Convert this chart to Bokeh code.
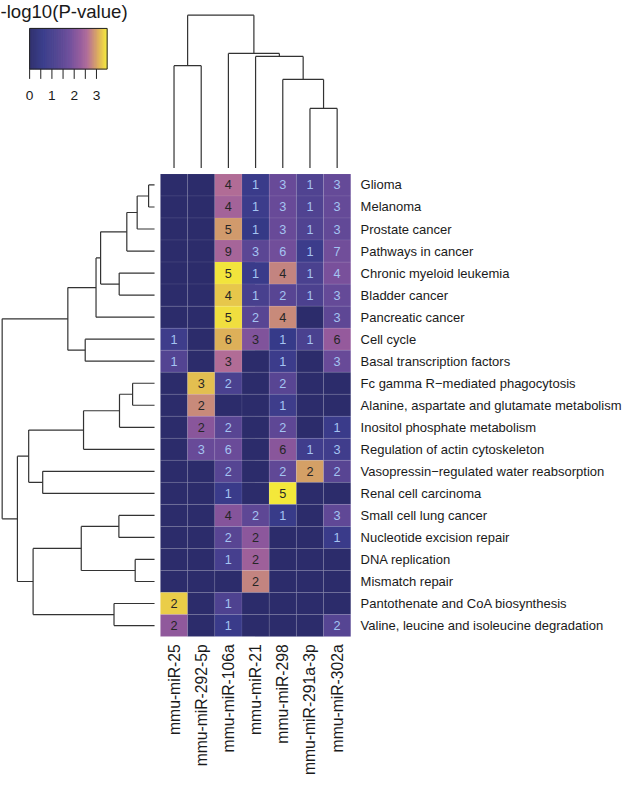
import numpy as np
from bokeh.plotting import figure
from bokeh.models import Range1d, LinearColorMapper, ColumnDataSource
from bokeh.transform import transform
from bokeh.core.properties import value
from bokeh.embed import file_html
from bokeh.resources import INLINE

# ---------------- data ----------------
mirnas = ["mmu-miR-25", "mmu-miR-292-5p", "mmu-miR-106a", "mmu-miR-21",
          "mmu-miR-298", "mmu-miR-291a-3p", "mmu-miR-302a"]
pathways = ["Glioma", "Melanoma", "Prostate cancer", "Pathways in cancer",
            "Chronic myeloid leukemia", "Bladder cancer", "Pancreatic cancer",
            "Cell cycle", "Basal transcription factors",
            "Fc gamma R\u2212mediated phagocytosis",
            "Alanine, aspartate and glutamate metabolism",
            "Inositol phosphate metabolism", "Regulation of actin cytoskeleton",
            "Vasopressin\u2212regulated water reabsorption", "Renal cell carcinoma",
            "Small cell lung cancer", "Nucleotide excision repair", "DNA replication",
            "Mismatch repair", "Pantothenate and CoA biosynthesis",
            "Valine, leucine and isoleucine degradation"]

# gene counts per miRNA (0 = no label)
cnt_25   = [0, 0, 0, 0, 0, 0, 0, 1, 1, 0, 0, 0, 0, 0, 0, 0, 0, 0, 0, 2, 2]
cnt_292  = [0, 0, 0, 0, 0, 0, 0, 0, 0, 3, 2, 2, 3, 0, 0, 0, 0, 0, 0, 0, 0]
cnt_106a = [4, 4, 5, 9, 5, 4, 5, 6, 3, 2, 0, 2, 6, 2, 1, 4, 2, 1, 0, 1, 1]
cnt_21   = [1, 1, 1, 3, 1, 1, 2, 3, 0, 0, 0, 0, 0, 0, 0, 2, 2, 2, 2, 0, 0]
cnt_298  = [3, 3, 3, 6, 4, 2, 4, 1, 1, 2, 1, 2, 6, 2, 5, 1, 0, 0, 0, 0, 0]
cnt_291a = [1, 1, 1, 1, 1, 1, 0, 1, 0, 0, 0, 0, 1, 2, 0, 0, 0, 0, 0, 0, 0]
cnt_302a = [3, 3, 3, 7, 4, 3, 3, 6, 3, 0, 0, 1, 3, 2, 0, 3, 1, 0, 0, 0, 2]

# -log10(P-value) per miRNA
lp_25   = [0, 0, 0, 0, 0, 0, 0, 0.8, 1.3, 0, 0, 0, 0, 0, 0, 0, 0, 0, 0, 3.3, 2.25]
lp_292  = [0, 0, 0, 0, 0, 0, 0, 0, 0, 3.2, 2.85, 2.15, 1.7, 0, 0, 0, 0, 0, 0, 0, 0]
lp_106a = [2.6, 2.45, 2.95, 2.5, 3.45, 3.25, 3.4, 3.1, 2.6, 1.1, 0, 1.4, 1.75, 1.35,
           0.7, 2.1, 1.4, 1.0, 0, 1.2, 0.7]
lp_21   = [0.7, 0.75, 0.55, 1.45, 0.7, 1.05, 1.4, 2.05, 0, 0, 0, 0, 0, 0, 0, 1.5,
           2.2, 2.4, 2.8, 0, 0]
lp_298  = [1.7, 1.7, 1.7, 1.85, 2.8, 1.4, 2.85, 0.6, 0.75, 1.4, 0.8, 1.5, 2.15, 1.55,
           3.48, 0.65, 0, 0, 0, 0, 0]
lp_291a = [1.25, 1.25, 1.25, 0.75, 1.1, 1.15, 0, 1.1, 0, 0, 0, 0, 0.85, 3.0, 0, 0,
           0, 0, 0, 0, 0]
lp_302a = [1.65, 1.65, 1.6, 1.85, 1.95, 1.65, 1.5, 2.3, 1.7, 0, 0, 0.7, 0.85, 1.4, 0,
           1.55, 0.7, 0, 0, 0, 1.35]

counts = [cnt_25, cnt_292, cnt_106a, cnt_21, cnt_298, cnt_291a, cnt_302a]
logp = [lp_25, lp_292, lp_106a, lp_21, lp_298, lp_291a, lp_302a]

# dendrograms: (child_a, child_b, relative height); new node ids follow leaves
col_link = [(5, 6, 0.39), (4, 7, 0.58), (0, 1, 0.67), (3, 8, 0.73), (2, 10, 0.75),
            (9, 11, 1.0)]
row_link = [(0, 1, 0.039), (21, 2, 0.114), (22, 3, 0.182), (4, 5, 0.232),
            (23, 24, 0.354), (25, 6, 0.384), (7, 8, 0.455), (26, 27, 0.569),
            (9, 10, 0.144), (29, 11, 0.230), (30, 12, 0.466), (13, 14, 0.734),
            (31, 32, 0.826), (15, 16, 0.234), (17, 18, 0.127), (34, 35, 0.481),
            (19, 20, 0.266), (36, 37, 0.797), (33, 38, 0.900), (28, 39, 1.0)]

cb_ticks = [0, 1, 2, 3]
VMAX = 3.48

# ---------------- layout helpers (reference pixel -> cell units) ----------------
HX0, HY0, CW, RH = 166.0, 177.0, 27.71, 22.48
def ux(px):
    return (px - HX0) / CW
def uy(py):
    return (py - HY0) / RH
S = 0.98  # page scale

anchors = [(0.0, "#2c2c6b"), (0.6, "#363a89"), (1.2, "#4e4290"), (1.8, "#6d4c9a"),
           (2.3, "#945a9c"), (2.6, "#b06b97"), (2.85, "#c88a7a"), (3.1, "#dcae5a"),
           (3.3, "#eacd48"), (3.48, "#f3e83a")]
def hex2rgb(h):
    return np.array([int(h[i:i + 2], 16) for i in (1, 3, 5)], float)
av = np.array([a[0] for a in anchors])
ac = np.array([hex2rgb(a[1]) for a in anchors])
palette = []
for t in np.linspace(0, VMAX, 256):
    rgb = [np.interp(t, av, ac[:, k]) for k in range(3)]
    palette.append("#%02x%02x%02x" % tuple(int(round(c)) for c in rgb))
mapper = LinearColorMapper(palette=palette, low=0, high=VMAX)

FONT = value("Liberation Sans")

p = figure(width=625, height=782, x_range=Range1d(ux(3), ux(640)),
           y_range=Range1d(uy(798), uy(0)), output_backend="svg",
           toolbar_location=None, min_border=0,
           x_axis_location=None, y_axis_location=None)
p.grid.visible = False
p.outline_line_color = None
p.background_fill_color = "white"

# ---------------- heatmap ----------------
xs, ys, vals, labs, tcol = [], [], [], [], []
for ci in range(len(mirnas)):
    for ri in range(len(pathways)):
        xs.append(ci + 0.5)
        ys.append(ri + 0.5)
        v = logp[ci][ri]
        vals.append(v)
        c = counts[ci][ri]
        labs.append(str(c) if c > 0 else "")
        tcol.append("#262626" if v >= 2.0 else "#a4c4f2")
src = ColumnDataSource(dict(x=xs, y=ys, v=vals, lab=labs, tc=tcol))
p.rect("x", "y", width=1, height=1, source=src, fill_color=transform("v", mapper),
       line_color="#ffffff", line_alpha=0.07, line_width=1)
p.text("x", "y", text="lab", source=src, text_color="tc", text_align="center",
       text_baseline="middle", text_font=FONT, text_font_size="%.1fpx" % (13 * S))

# row labels
p.text([ux(370)] * len(pathways), [i + 0.5 for i in range(len(pathways))],
       text=pathways, text_align="left", text_baseline="middle", text_font=FONT,
       text_font_size="%.1fpx" % (13.3 * S), text_color="#1a1a1a")
# column labels
p.text([i + 0.5 for i in range(len(mirnas))], [uy(657)] * len(mirnas), text=mirnas,
       angle=np.pi / 2, text_align="right", text_baseline="middle", text_font=FONT,
       text_font_size="%.1fpx" % (16 * S), text_color="#1a1a1a")

# ---------------- dendrograms ----------------
def dendro(link, n):
    pos = {i: i + 0.5 for i in range(n)}
    hgt = {i: 0.0 for i in range(n)}
    segs = []
    for k, (a, b, h) in enumerate(link):
        for c in (a, b):
            segs.append((pos[c], hgt[c], pos[c], h))
        segs.append((pos[a], h, pos[b], h))
        pos[n + k] = (pos[a] + pos[b]) / 2
        hgt[n + k] = h
    return segs

cs = dendro(col_link, len(mirnas))
cy0, cscale = uy(171), 156.0 / RH
p.segment([s[0] for s in cs], [cy0 - s[1] * cscale for s in cs],
          [s[2] for s in cs], [cy0 - s[3] * cscale for s in cs],
          line_color="#333333", line_width=1.2)
rs = dendro(row_link, len(pathways))
rx0, rscale = ux(160), 155.3 / CW
p.segment([rx0 - s[1] * rscale for s in rs], [s[0] for s in rs],
          [rx0 - s[3] * rscale for s in rs], [s[2] for s in rs],
          line_color="#333333", line_width=1.2)

# ---------------- colour key ----------------
cbl, cbr, cbt, cbb = ux(32.7), ux(111.7), uy(28.5), uy(70)
def cbx(v):
    return cbl + v / VMAX * (cbr - cbl)
edges = np.linspace(0, VMAX, 121)
cb_src = ColumnDataSource(dict(l=[cbx(a) for a in edges[:-1]],
                               r=[cbx(b) for b in edges[1:]],
                               v=list((edges[:-1] + edges[1:]) / 2)))
p.quad(left="l", right="r", top=cbt, bottom=cbb, source=cb_src,
       fill_color=transform("v", mapper), line_color=transform("v", mapper),
       line_width=0.5)
p.quad(left=[cbl], right=[cbr], top=[cbt], bottom=[cbb], fill_color=None,
       line_color="#222222", line_width=1)
minor = [t * 0.5 for t in range(7)]
p.segment([cbx(t) for t in minor], [cbb] * 7, [cbx(t) for t in minor],
          [uy(80)] * 7, line_color="#222222", line_width=1)
p.text([cbx(t) for t in cb_ticks], [uy(97)] * len(cb_ticks),
       text=[str(t) for t in cb_ticks], text_align="center", text_baseline="middle",
       text_font=FONT, text_font_size="%.1fpx" % (14 * S), text_color="#1a1a1a")
p.text([ux(3)], [uy(11)], text=["-log10(P-value)"], text_align="left",
       text_baseline="middle", text_font=FONT,
       text_font_size="%.1fpx" % (19 * S), text_color="#1a1a1a")

open("out.html", "w").write(file_html(p, INLINE))
